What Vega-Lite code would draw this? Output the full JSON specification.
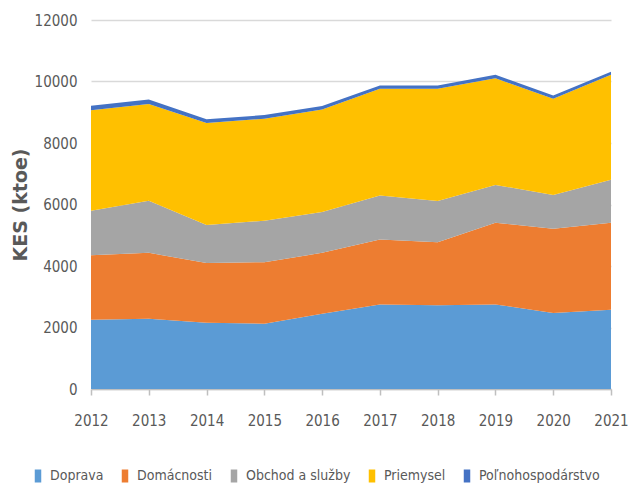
{
  "$schema": "https://vega.github.io/schema/vega-lite/v6.json",
  "width": 520,
  "height": 369,
  "autosize": {"type": "none"},
  "padding": {"left": 91, "top": 20, "right": 20, "bottom": 98},
  "background": "white",
  "config": {"view": {"stroke": null}},
  "datasets": {
    "sektory": [
      {"sektor": "Doprava", "poradie": 1},
      {"sektor": "Domácnosti", "poradie": 2},
      {"sektor": "Obchod a služby", "poradie": 3},
      {"sektor": "Priemysel", "poradie": 4},
      {"sektor": "Poľnohospodárstvo", "poradie": 5}
    ]
  },
  "data": {"values": [
    {"rok": 2012, "sektor": "Doprava", "hodnota": 2253},
    {"rok": 2012, "sektor": "Domácnosti", "hodnota": 2099},
    {"rok": 2012, "sektor": "Obchod a služby", "hodnota": 1446},
    {"rok": 2012, "sektor": "Priemysel", "hodnota": 3265},
    {"rok": 2012, "sektor": "Poľnohospodárstvo", "hodnota": 150},
    {"rok": 2013, "sektor": "Doprava", "hodnota": 2285},
    {"rok": 2013, "sektor": "Domácnosti", "hodnota": 2142},
    {"rok": 2013, "sektor": "Obchod a služby", "hodnota": 1698},
    {"rok": 2013, "sektor": "Priemysel", "hodnota": 3147},
    {"rok": 2013, "sektor": "Poľnohospodárstvo", "hodnota": 140},
    {"rok": 2014, "sektor": "Doprava", "hodnota": 2155},
    {"rok": 2014, "sektor": "Domácnosti", "hodnota": 1946},
    {"rok": 2014, "sektor": "Obchod a služby", "hodnota": 1231},
    {"rok": 2014, "sektor": "Priemysel", "hodnota": 3320},
    {"rok": 2014, "sektor": "Poľnohospodárstvo", "hodnota": 120},
    {"rok": 2015, "sektor": "Doprava", "hodnota": 2122},
    {"rok": 2015, "sektor": "Domácnosti", "hodnota": 2001},
    {"rok": 2015, "sektor": "Obchod a služby", "hodnota": 1351},
    {"rok": 2015, "sektor": "Priemysel", "hodnota": 3318},
    {"rok": 2015, "sektor": "Poľnohospodárstvo", "hodnota": 115},
    {"rok": 2016, "sektor": "Doprava", "hodnota": 2449},
    {"rok": 2016, "sektor": "Domácnosti", "hodnota": 1978},
    {"rok": 2016, "sektor": "Obchod a služby", "hodnota": 1329},
    {"rok": 2016, "sektor": "Priemysel", "hodnota": 3330},
    {"rok": 2016, "sektor": "Poľnohospodárstvo", "hodnota": 115},
    {"rok": 2017, "sektor": "Doprava", "hodnota": 2752},
    {"rok": 2017, "sektor": "Domácnosti", "hodnota": 2111},
    {"rok": 2017, "sektor": "Obchod a služby", "hodnota": 1426},
    {"rok": 2017, "sektor": "Priemysel", "hodnota": 3472},
    {"rok": 2017, "sektor": "Poľnohospodárstvo", "hodnota": 110},
    {"rok": 2018, "sektor": "Doprava", "hodnota": 2720},
    {"rok": 2018, "sektor": "Domácnosti", "hodnota": 2056},
    {"rok": 2018, "sektor": "Obchod a služby", "hodnota": 1339},
    {"rok": 2018, "sektor": "Priemysel", "hodnota": 3646},
    {"rok": 2018, "sektor": "Poľnohospodárstvo", "hodnota": 110},
    {"rok": 2019, "sektor": "Doprava", "hodnota": 2752},
    {"rok": 2019, "sektor": "Domácnosti", "hodnota": 2655},
    {"rok": 2019, "sektor": "Obchod a služby", "hodnota": 1231},
    {"rok": 2019, "sektor": "Priemysel", "hodnota": 3470},
    {"rok": 2019, "sektor": "Poľnohospodárstvo", "hodnota": 110},
    {"rok": 2020, "sektor": "Doprava", "hodnota": 2470},
    {"rok": 2020, "sektor": "Domácnosti", "hodnota": 2741},
    {"rok": 2020, "sektor": "Obchod a služby", "hodnota": 1100},
    {"rok": 2020, "sektor": "Priemysel", "hodnota": 3124},
    {"rok": 2020, "sektor": "Poľnohospodárstvo", "hodnota": 110},
    {"rok": 2021, "sektor": "Doprava", "hodnota": 2579},
    {"rok": 2021, "sektor": "Domácnosti", "hodnota": 2828},
    {"rok": 2021, "sektor": "Obchod a služby", "hodnota": 1394},
    {"rok": 2021, "sektor": "Priemysel", "hodnota": 3417},
    {"rok": 2021, "sektor": "Poľnohospodárstvo", "hodnota": 100}
  ]},
  "transform": [
    {"lookup": "sektor", "from": {"data": {"name": "sektory"}, "key": "sektor", "fields": ["poradie"]}}
  ],
  "mark": {"type": "area", "interpolate": "linear"},
  "encoding": {
    "x": {
      "field": "rok", "type": "quantitative",
      "scale": {"domain": [2012, 2021], "nice": false, "zero": false},
      "axis": {
        "values": [2012, 2013, 2014, 2015, 2016, 2017, 2018, 2019, 2020, 2021],
        "format": "d", "title": null, "grid": false,
        "labelFlush": false, "labelOverlap": false, "labelBound": false,
        "domainColor": "#BFBFBF", "domainWidth": 1.5,
        "tickColor": "#BFBFBF", "tickSize": 6, "tickWidth": 1.5,
        "labelFont": "DejaVu Sans Condensed", "labelFontSize": 15, "labelColor": "#595959",
        "labelPadding": 18
      }
    },
    "y": {
      "field": "hodnota", "type": "quantitative", "stack": "zero",
      "scale": {"domain": [0, 12000], "nice": false},
      "axis": {
        "values": [0, 2000, 4000, 6000, 8000, 10000, 12000],
        "format": "d", "title": "KES (ktoe)",
        "domain": false, "ticks": false,
        "gridColor": "#D9D9D9", "gridWidth": 1.5,
        "labelFont": "DejaVu Sans Condensed", "labelFontSize": 15, "labelColor": "#595959",
        "labelPadding": 14,
        "titleFont": "DejaVu Sans", "titleFontSize": 19, "titleFontWeight": "bold", "titleColor": "#595959",
        "titleX": -71, "titleBaseline": "middle"
      }
    },
    "order": {"field": "poradie", "type": "quantitative", "sort": "ascending"},
    "color": {
      "field": "sektor", "type": "nominal",
      "sort": ["Doprava", "Domácnosti", "Obchod a služby", "Priemysel", "Poľnohospodárstvo"],
      "scale": {
        "domain": ["Doprava", "Domácnosti", "Obchod a služby", "Priemysel", "Poľnohospodárstvo"],
        "range": ["#5B9BD5", "#ED7D31", "#A5A5A5", "#FFC000", "#4472C4"]
      },
      "legend": {
        "title": null, "orient": "none", "direction": "horizontal",
        "legendX": -60, "legendY": 449,
        "symbolType": "M-0.5,-1H0.5V1H-0.5Z", "symbolSize": 169, "symbolStrokeWidth": 0,
        "labelFont": "DejaVu Sans Condensed", "labelFontSize": 14, "labelColor": "#595959",
        "labelOffset": 5, "columnPadding": 14
      }
    }
  }
}
